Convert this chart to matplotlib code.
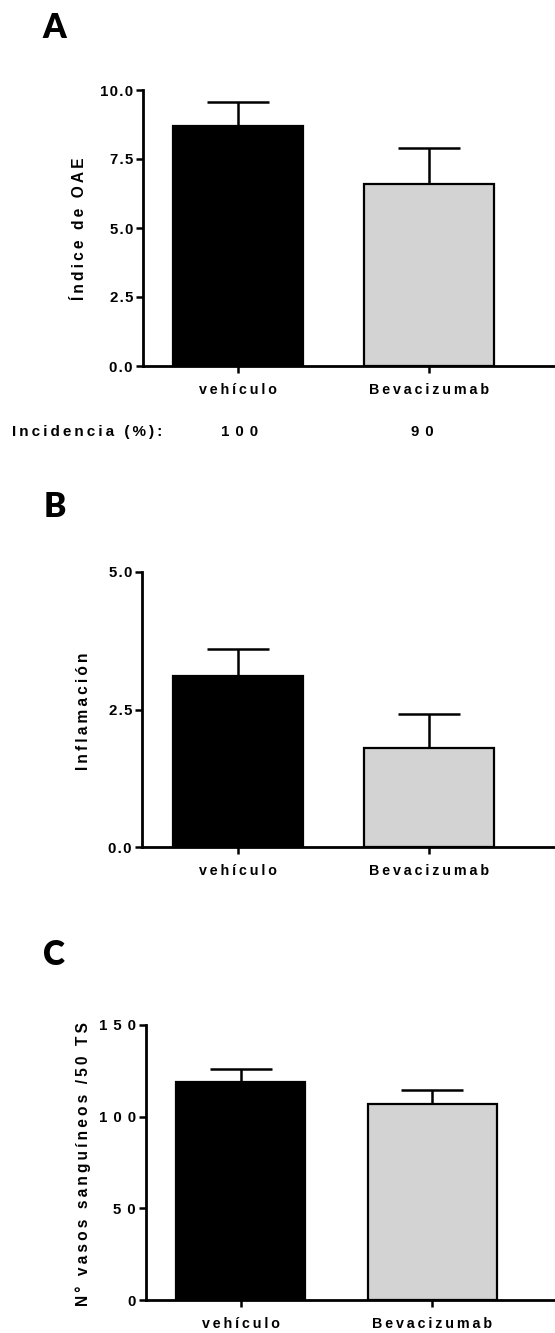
import matplotlib.pyplot as plt

# figure size in pixels (dpi 100)
W, H = 555, 1333

groups = ['vehículo', 'Bevacizumab']
bar_colors = ['black', '#d3d3d3']

# A: OAE index, incidence per group
oae_mean = [8.70, 6.59]
oae_sem = [0.88, 1.30]
incidence = ['100', '90']

# B: inflammation score
infl_mean = [3.11, 1.80]
infl_sem = [0.49, 0.61]

# C: blood vessels per 50 transverse sections
vessels_mean = [118.9, 106.9]
vessels_sem = [7.3, 7.5]

plt.rcParams['font.family'] = ['Liberation Sans', 'DejaVu Sans']
plt.rcParams['font.weight'] = 'bold'


def spaced(s, sep='\u2009'):
    # GraphPad-style letter spacing
    return sep.join(s)


def fx(x):
    return x / W


def fy(y):
    return 1 - y / H


fig = plt.figure(figsize=(W / 100, H / 100), dpi=100)


def bar_panel(left, top, bottom, xlim, width, means, sems, yticks, ylabels,
              tick_sep='\u200a'):
    ax = fig.add_axes([fx(left), fy(bottom), fx(W - left), (bottom - top) / H])
    x = [0, 1]
    ax.errorbar(x, means, yerr=[[0, 0], sems], fmt='none', ecolor='black',
                elinewidth=1.8, capsize=22.5, capthick=1.8, zorder=1)
    ax.bar(x, means, width=width, color=bar_colors, edgecolor='black',
           linewidth=1.6, zorder=2)
    ax.set_xlim(*xlim)
    ax.set_ylim(yticks[0], yticks[-1])
    ax.set_yticks(yticks, [spaced(t, tick_sep) for t in ylabels],
                  fontsize=10.8, fontweight='bold')
    ax.set_xticks(x, [spaced(g, '\u2009') for g in groups],
                  fontsize=10.3, fontweight='bold')
    for side in ['top', 'right']:
        ax.spines[side].set_visible(False)
    for side in ['left', 'bottom']:
        ax.spines[side].set_linewidth(2)
    ax.tick_params(axis='both', width=1.8, length=5)
    ax.tick_params(axis='y', pad=2)
    ax.tick_params(axis='x', pad=7)
    return ax


# Panel A
bar_panel(142.7, 90, 366, (-0.5, 1.66), 0.68, oae_mean, oae_sem,
          [0, 2.5, 5.0, 7.5, 10.0], ['0.0', '2.5', '5.0', '7.5', '10.0'])
fig.text(fx(80), fy(229), spaced('Índice de OAE'), rotation=90,
         ha='center', va='center', fontsize=11.2, fontweight='bold')
fig.text(fx(12), fy(432), spaced('Incidencia (%):'), ha='left', va='center',
         fontsize=11, fontweight='bold')
for xc, val in zip([240, 422], incidence):
    fig.text(fx(xc), fy(432), spaced(val, '\u2009\u2009'), ha='center',
             va='center', fontsize=10.8, fontweight='bold')

# Panel B
bar_panel(141.7, 571.7, 847.3, (-0.504, 1.66), 0.68, infl_mean, infl_sem,
          [0, 2.5, 5.0], ['0.0', '2.5', '5.0'])
fig.text(fx(83), fy(711), spaced('Inflamación'), rotation=90,
         ha='center', va='center', fontsize=11.2, fontweight='bold')

# Panel C
bar_panel(145.7, 1025, 1300, (-0.496, 1.64), 0.675, vessels_mean, vessels_sem,
          [0, 50, 100, 150], ['0', '50', '100', '150'], tick_sep='\u2009\u2009')
fig.text(fx(83), fy(1164), spaced('N° vasos sanguíneos /50 TS'), rotation=90,
         ha='center', va='center', fontsize=11.2, fontweight='bold')

# panel letters
for letter, (xc, yc) in zip('ABC', [(54, 28), (54.5, 507), (54, 955)]):
    fig.text(fx(xc), fy(yc), letter, ha='center', va='center',
             fontsize=24, fontweight='heavy', family='Lato')

fig.savefig('out.png', dpi=100)
